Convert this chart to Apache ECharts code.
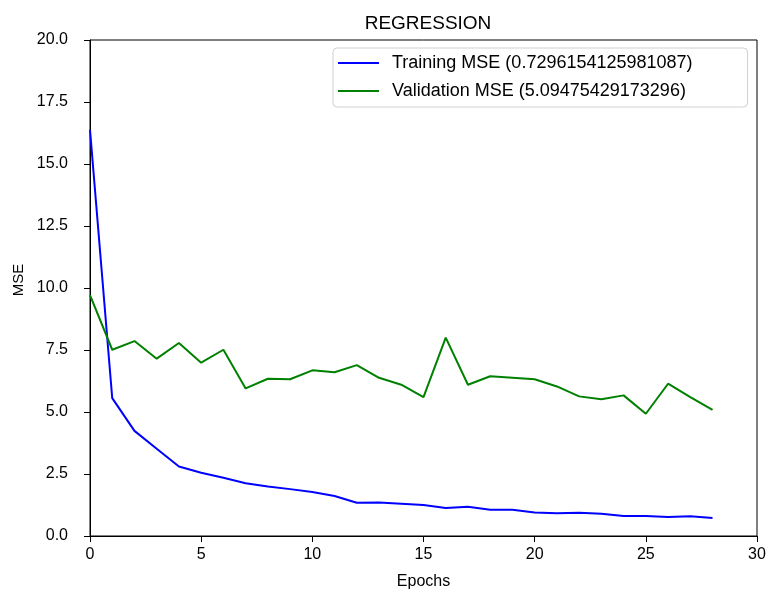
<!DOCTYPE html>
<html>
<head>
<meta charset="utf-8">
<script src="https://cdn.jsdelivr.net/npm/echarts@6/dist/echarts.min.js"></script>
<style>html,body{margin:0;padding:0;background:#fff}#c{width:769px;height:595px}</style>
</head>
<body>
<div id="c"></div>
<script>
var epochs = [0,1,2,3,4,5,6,7,8,9,10,11,12,13,14,15,16,17,18,19,20,21,22,23,24,25,26,27,28];
var trainingMSE = [16.38,5.56,4.24,3.52,2.80,2.55,2.35,2.13,2.00,1.89,1.77,1.61,1.34,1.35,1.30,1.25,1.13,1.18,1.06,1.06,0.95,0.92,0.94,0.90,0.81,0.81,0.77,0.80,0.73];
var validationMSE = [9.71,7.51,7.86,7.15,7.78,6.99,7.51,5.95,6.34,6.32,6.68,6.60,6.89,6.38,6.10,5.60,8.00,6.10,6.44,6.38,6.32,6.03,5.63,5.51,5.67,4.93,6.14,5.60,5.09];
var seriesNames = ['Training MSE (0.7296154125981087)','Validation MSE (5.09475429173296)'];
var xTicks = [0,5,10,15,20,25,30];
var yTicks = ['0.0','2.5','5.0','7.5','10.0','12.5','15.0','17.5','20.0'];

function pairs(ys){ return epochs.map(function(e,i){ return [e, ys[i]]; }); }
var font = 'Liberation Sans';
var chart = echarts.init(document.getElementById('c'), null, {renderer:'canvas'});
chart.setOption({
  animation:false,
  backgroundColor:'#fff',
  title:{text:'REGRESSION', left:423, top:9, textAlign:'center',
    textStyle:{fontFamily:font, fontSize:19, fontWeight:'normal', color:'#000'}},
  grid:{left:90, right:12, top:40, bottom:59, show:true, borderColor:'#000', borderWidth:1, containLabel:false},
  legend:{orient:'vertical', left:333, top:48, data:seriesNames,
    backgroundColor:'#fff', borderColor:'#d0d0d0', borderWidth:1, borderRadius:4,
    padding:[6,55,7,5], itemGap:10, itemWidth:41, itemHeight:18,
    icon:'path://M0,8 L41,8 L41,10 L0,10 Z',
    textStyle:{fontFamily:font, fontSize:18, lineHeight:18, color:'#000', padding:[0,0,0,8]}},
  xAxis:{type:'value', min:0, max:30, interval:5, name:'Epochs', nameLocation:'middle', nameGap:38,
    nameTextStyle:{fontFamily:font, fontSize:16, color:'#000'},
    axisLine:{show:true, lineStyle:{color:'#000'}},
    axisTick:{show:true, inside:false, length:6, lineStyle:{color:'#000'}},
    axisLabel:{fontFamily:font, fontSize:16, color:'#000', margin:11,
      formatter:function(v){ return xTicks.indexOf(v)>=0 ? String(v) : ''; }},
    splitLine:{show:false}},
  yAxis:{type:'value', min:0, max:20, interval:2.5, name:'MSE', nameLocation:'middle', nameGap:62, nameRotate:90,
    nameTextStyle:{fontFamily:font, fontSize:15, color:'#000', padding:[0,0,0,16]},
    axisLine:{show:true, lineStyle:{color:'#000'}},
    axisTick:{show:true, inside:false, length:6, lineStyle:{color:'#000'}},
    axisLabel:{fontFamily:font, fontSize:16, color:'#000', margin:22,
      formatter:function(v){ return yTicks[Math.round(v/2.5)]; }},
    splitLine:{show:false}},
  series:[
    {name:seriesNames[0], type:'line', data:pairs(trainingMSE), showSymbol:false, symbol:'none',
      lineStyle:{color:'#0000ff', width:2}, itemStyle:{color:'#0000ff'}},
    {name:seriesNames[1], type:'line', data:pairs(validationMSE), showSymbol:false, symbol:'none',
      lineStyle:{color:'#008000', width:2}, itemStyle:{color:'#008000'}}
  ]
});
</script>
</body>
</html>
